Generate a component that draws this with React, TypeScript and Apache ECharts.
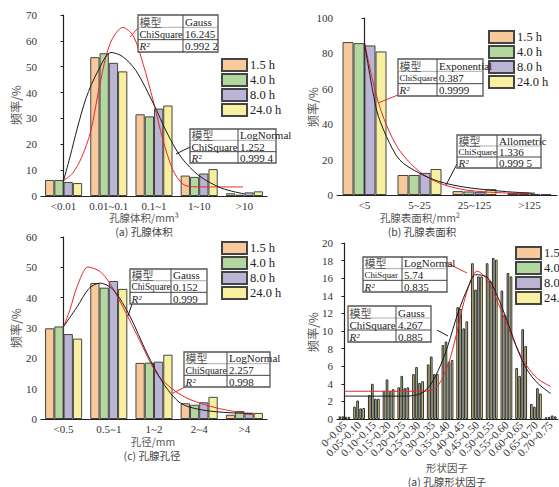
import React, { useEffect, useRef } from "react";
import * as echarts from "echarts";

const seriesNames = ["1.5 h", "4.0 h", "8.0 h", "24.0 h"];
const barColors = ["#F8C99B", "#B4D7A0", "#BCB4D4", "#F9EFA0"];

// (a) pore volume
const catsA = ["<0.01", "0.01~0.1", "0.1~1", "1~10", ">10"];
const valsA = [
  [6.2, 53.7, 31.6, 7.9, 1.05],
  [6.2, 55.2, 30.8, 7.4, 0.5],
  [5.4, 51.5, 33.8, 8.7, 1.4],
  [5.0, 48.2, 35.0, 10.4, 1.8],
];
const curveAGauss = [[0, 6], [0.2, 8.8], [0.4, 15], [0.6, 25], [0.8, 43], [1.03, 59], [1.31, 65.2], [1.54, 62], [1.76, 51], [1.98, 37], [2.2, 21.6], [2.42, 10], [2.64, 4.6], [2.85, 3.6], [3.2, 3.5], [3.97, 3.5]];
const curveALogNormal = [[0, 6], [0.14, 15], [0.3, 26], [0.5, 38], [0.75, 48], [1.05, 55.5], [1.3, 54], [1.6, 48.5], [1.98, 36], [2.3, 24], [2.6, 15], [3.0, 7.8], [3.5, 3], [4.0, 0.8]];

// (b) pore surface area
const catsB = ["<5", "5~25", "25~125", ">125"];
const valsB = [
  [86.4, 11.3, 2.2, 1.2],
  [85.8, 11.3, 2.0, 1.3],
  [84.5, 12.5, 1.6, 0.6],
  [81.1, 14.7, 3.3, 0.5],
];
const curveBExp = [[0, 86], [0.22, 55.7], [0.4, 39.5], [0.64, 25], [1.0, 13.2], [1.37, 6.6], [1.85, 2.8], [2.58, 1.1], [3.05, 0.8]];
const curveBAllo = [[0, 86], [0.22, 48], [0.4, 33], [0.64, 19.8], [1.0, 12.3], [1.37, 7.5], [1.85, 4.3], [2.58, 1.9], [3.1, 1]];

// (c) pore diameter
const catsC = ["<0.5", "0.5~1", "1~2", "2~4", ">4"];
const valsC = [
  [29.9, 44.8, 18.5, 5.2, 1.4],
  [30.5, 43.3, 18.6, 4.7, 2.6],
  [28.0, 45.5, 18.9, 5.5, 1.8],
  [26.5, 42.9, 21.2, 7.3, 2.0],
];
const curveCLogNormal = [[0, 30.5], [0.14, 36], [0.3, 43.7], [0.54, 50.1], [0.8, 48.7], [1.02, 44.8], [1.31, 37], [1.68, 26], [2.05, 15.2], [2.42, 9.7], [2.8, 6.4], [3.4, 3.6], [4.2, 1.4]];
const curveCGauss = [[0, 30.5], [0.3, 37], [0.56, 43], [0.8, 44.8], [1.1, 42.6], [1.47, 33.8], [1.84, 21.8], [2.2, 11.9], [2.58, 5.3], [3.02, 3.1], [3.75, 2.0], [4.2, 1.9]];

// (d) shape factor
const catsD = ["0~0.05", "0.05~0.10", "0.10~0.15", "0.15~0.20", "0.20~0.25", "0.25~0.30", "0.30~0.35", "0.35~0.40", "0.40~0.45", "0.45~0.50", "0.50~0.55", "0.55~0.60", "0.60~0.65", "0.65~0.70", "0.70~0.75"];
const valsD = [
  [0.3, 1.4, 2.7, 3.2, 3.6, 5.1, 6.2, 8.4, 12.7, 17.7, 17.7, 14.6, 5.8, 1.7, 0.2],
  [0.3, 2.1, 4.0, 4.5, 4.9, 5.9, 7.1, 8.8, 12.5, 14.7, 15.7, 11.8, 4.9, 1.4, 0.25],
  [0.25, 1.2, 2.3, 3.2, 3.5, 4.1, 5.1, 6.5, 10.3, 16.2, 18.3, 16.6, 10.2, 3.5, 0.4],
  [0.25, 1.25, 2.3, 3.4, 3.6, 4.3, 5.1, 6.7, 11.1, 16.2, 18.1, 16.2, 8.3, 2.9, 0.3],
];
const curveDLogNormal = [[0, 3.15], [3, 3.15], [5.5, 3.15], [5.9, 3.3], [6.3, 3.7], [6.7, 4.8], [7.2, 7], [7.7, 10.3], [8.1, 13.2], [8.6, 15.8], [9.0, 16.8], [9.7, 15.8], [10.4, 13.3], [11.1, 10.5], [11.8, 7.8], [12.4, 6], [13.1, 4.6], [14, 3.7]];
const curveDGauss = [[0, 2.6], [2.5, 2.6], [4.2, 2.6], [5.2, 2.9], [5.85, 3.9], [6.5, 6], [7, 8.2], [7.7, 12], [8.4, 15], [8.9, 16.4], [9.7, 16.1], [10.4, 13.9], [11.1, 10.9], [11.8, 7.7], [12.4, 5.6], [13.1, 4.1], [14, 2.9]];

// fit tables
const tabAGauss = [["模型", "Gauss"], ["ChiSquare", "16.245"], ["R²", "0.992 2"]];
const tabALogNormal = [["模型", "LogNormal"], ["ChiSquare", "1.252"], ["R²", "0.999 4"]];
const tabBExp = [["模型", "Exponential"], ["ChiSquare", "0.387"], ["R²", "0.9999"]];
const tabBAllo = [["模型", "Allometric"], ["ChiSquare", "1.336"], ["R²", "0.999 5"]];
const tabCGauss = [["模型", "Gauss"], ["ChiSquare", "0.152"], ["R²", "0.999"]];
const tabCLogNormal = [["模型", "LogNormal"], ["ChiSquare", "2.257"], ["R²", "0.998"]];
const tabDLogNormal = [["模型", "LogNormal"], ["ChiSquar", "5.74"], ["R²", "0.835"]];
const tabDGauss = [["模型", "Gauss"], ["ChiSquare", "4.267"], ["R²", "0.885"]];

const SERIF = '"Liberation Serif", "Times New Roman", "Noto Sans CJK SC", serif';
const CJK = '"Noto Sans CJK SC", sans-serif';
const RED = "#E8262A";
const BLACK = "#1a1a1a";

function txt(x: number, y: number, text: string, o: any = {}) {
  return {
    type: "text",
    x,
    y,
    z: 100,
    rotation: o.rotation || 0,
    style: {
      text,
      fill: o.fill || "#333",
      fontSize: o.fontSize || 12,
      fontFamily: o.fontFamily || CJK,
      fontStyle: o.fontStyle || "normal",
      align: o.align || "center",
      verticalAlign: "middle",
      textAlign: o.align || "center",
      textVerticalAlign: "middle",
    },
  };
}

function table(x: number, y: number, w: number, h: number, split: number, rows: string[][], leader: number[], color: string) {
  const els: any[] = [];
  els.push({ type: "line", z: 99, shape: { x1: leader[0], y1: leader[1], x2: leader[2], y2: leader[3] }, style: { stroke: color, lineWidth: 1 } });
  els.push({ type: "rect", z: 100, shape: { x, y, width: w, height: h }, style: { fill: "#fff", stroke: "#555", lineWidth: 1.3 } });
  const rh = h / 3;
  els.push({ type: "line", z: 101, shape: { x1: x, y1: y + rh, x2: x + w, y2: y + rh }, style: { stroke: "#999", lineWidth: 0.8 } });
  els.push({ type: "line", z: 101, shape: { x1: x, y1: y + 2 * rh, x2: x + w, y2: y + 2 * rh }, style: { stroke: "#444", lineWidth: 1 } });
  els.push({ type: "line", z: 101, shape: { x1: split, y1: y, x2: split, y2: y + h }, style: { stroke: "#444", lineWidth: 1 } });
  const leftW = split - x;
  rows.forEach((r, i) => {
    const cy = y + rh * i + rh / 2 + 0.5;
    const fs0 = i === 1 ? Math.min(11, leftW / 4.4) : 11;
    const t0 = txt(x + 1.5, cy, r[0], {
      align: "left",
      fontSize: fs0,
      fontFamily: i === 0 ? CJK : SERIF,
      fontStyle: i === 2 ? "italic" : "normal",
      fill: i === 0 ? "#555" : "#222",
    });
    const t1 = txt(split + 2, cy, r[1], { align: "left", fontSize: 11, fontFamily: SERIF, fill: "#222" });
    t0.z = 102;
    t1.z = 102;
    els.push(t0, t1);
  });
  return els;
}

export default function App() {
  const ref = useRef<HTMLDivElement>(null);
  useEffect(() => {
    if (!ref.current) return;
    const chart = echarts.init(ref.current, null, { renderer: "svg" });

    const grids = [
      { left: 41, top: 15, width: 226, height: 181 },
      { left: 337, top: 18, width: 220, height: 177 },
      { left: 41, top: 237, width: 226, height: 182 },
      { left: 337, top: 243, width: 221, height: 176 },
    ];
    const catsAll = [catsA, catsB, catsC, catsD];
    const valsAll = [valsA, valsB, valsC, valsD];
    const yMax = [70, 100, 60, 20];
    const yInt = [10, 20, 10, 2];
    const catGap = ["18%", "20%", "18%", "20%"];
    const curves = [
      [curveAGauss, RED], [curveALogNormal, BLACK],
      [curveBExp, RED], [curveBAllo, BLACK],
      [curveCLogNormal, RED], [curveCGauss, BLACK],
      [curveDLogNormal, RED], [curveDGauss, BLACK],
    ];

    const xAxis: any[] = [];
    const yAxis: any[] = [];
    const series: any[] = [];
    catsAll.forEach((cats, p) => {
      const isD = p === 3;
      xAxis.push({
        type: "category",
        gridIndex: p,
        data: cats,
        axisLine: { lineStyle: { color: "#222", width: 1.2 } },
        axisTick: { length: 3, lineStyle: { color: "#222" } },
        axisLabel: {
          fontSize: 11,
          color: "#333",
          fontFamily: SERIF,
          margin: 4,
          interval: 0,
          rotate: isD ? 45 : 0,
        },
      });
      yAxis.push({
        type: "value",
        gridIndex: p,
        min: 0,
        max: yMax[p],
        interval: yInt[p],
        axisLine: { show: true, lineStyle: { color: "#222", width: 1.2 } },
        axisTick: { show: true, length: 3, lineStyle: { color: "#222" } },
        splitLine: { show: false },
        axisLabel: { fontSize: 11, color: "#333", fontFamily: SERIF, margin: 4 },
      });
    });
    catsAll.forEach((cats, p) => {
      xAxis.push({ type: "value", gridIndex: p, min: -0.5, max: cats.length - 0.5, show: false });
    });

    valsAll.forEach((vals, p) => {
      vals.forEach((v, k) => {
        series.push({
          type: "bar",
          name: seriesNames[k],
          xAxisIndex: p,
          yAxisIndex: p,
          data: v,
          barGap: p === 3 ? "15%" : "0%",
          barCategoryGap: catGap[p],
          itemStyle: { color: barColors[k], borderColor: p === 3 ? "#2e2e22" : "#444", borderWidth: 1 },
        });
      });
    });
    curves.forEach((c, i) => {
      const p = Math.floor(i / 2);
      series.push({
        type: "line",
        name: "fit" + i,
        xAxisIndex: p + 4,
        yAxisIndex: p,
        data: c[0],
        smooth: 0.3,
        symbol: "none",
        showSymbol: false,
        z: 5,
        lineStyle: { color: c[1], width: 1 },
      });
    });

    const legendPos = [
      [221, 58], [488, 30], [221, 241], [515, 246],
    ];
    const legend = legendPos.map((lp) => ({
      left: lp[0],
      top: lp[1],
      orient: "vertical",
      itemWidth: 25,
      itemHeight: 12,
      itemGap: 1,
      icon: "rect",
      data: seriesNames,
      selectedMode: false,
      padding: 0,
      textStyle: { fontSize: 12.5, fontFamily: SERIF, color: "#222", padding: [0, 0, 0, -2] },
    }));

    const graphics: any[] = [
      ...table(138, 15, 80, 37, 183, tabAGauss, [138, 28, 130, 37], RED),
      ...table(190, 129, 86, 34, 238, tabALogNormal, [190, 147, 176, 154], BLACK),
      ...table(398, 59, 85, 37, 437, tabBExp, [398, 95, 378, 103], RED),
      ...table(457, 135, 84, 33, 497, tabBAllo, [457, 164, 446, 185], BLACK),
      ...table(130, 269, 77, 35, 171, tabCGauss, [132, 304, 128, 316], BLACK),
      ...table(184, 352, 86, 35, 227, tabCLogNormal, [185, 387, 173, 393], RED),
      ...table(363, 257, 84, 35, 402, tabDLogNormal, [447, 263, 467, 273], RED),
      ...table(348, 306, 83, 36, 396, tabDGauss, [437, 330, 448, 336], BLACK),
      txt(15, 105, "频率/%", { rotation: Math.PI / 2, fontSize: 12, fill: "#555" }),
      txt(312, 107, "频率/%", { rotation: Math.PI / 2, fontSize: 12, fill: "#555" }),
      txt(15, 328, "频率/%", { rotation: Math.PI / 2, fontSize: 12, fill: "#555" }),
      txt(312, 332, "频率/%", { rotation: Math.PI / 2, fontSize: 12, fill: "#555" }),
      txt(144, 217.5, "孔腺体积/mm³", { fontSize: 10.5, fill: "#555" }),
      txt(144, 231, "(a) 孔腺体积", { fontSize: 10.5, fill: "#444" }),
      txt(420, 217.5, "孔腺表面积/mm²", { fontSize: 10.5, fill: "#555" }),
      txt(422, 231, "(b) 孔腺表面积", { fontSize: 10.5, fill: "#444" }),
      txt(153, 441.5, "孔径/mm", { fontSize: 10.5, fill: "#555" }),
      txt(152, 455, "(c) 孔腺孔径", { fontSize: 10.5, fill: "#444" }),
      txt(447, 467.5, "形状因子", { fontSize: 10.5, fill: "#555" }),
      txt(447, 481, "(a) 孔腺形状因子", { fontSize: 10.5, fill: "#444" }),
    ];

    chart.setOption({
      animation: false,
      backgroundColor: "#fff",
      grid: grids,
      xAxis,
      yAxis,
      legend,
      series,
      graphic: graphics,
    });
    return () => chart.dispose();
  }, []);
  return <div ref={ref} style={{ position: "fixed", left: 0, top: 0, width: 559, height: 487 }} />;
}
